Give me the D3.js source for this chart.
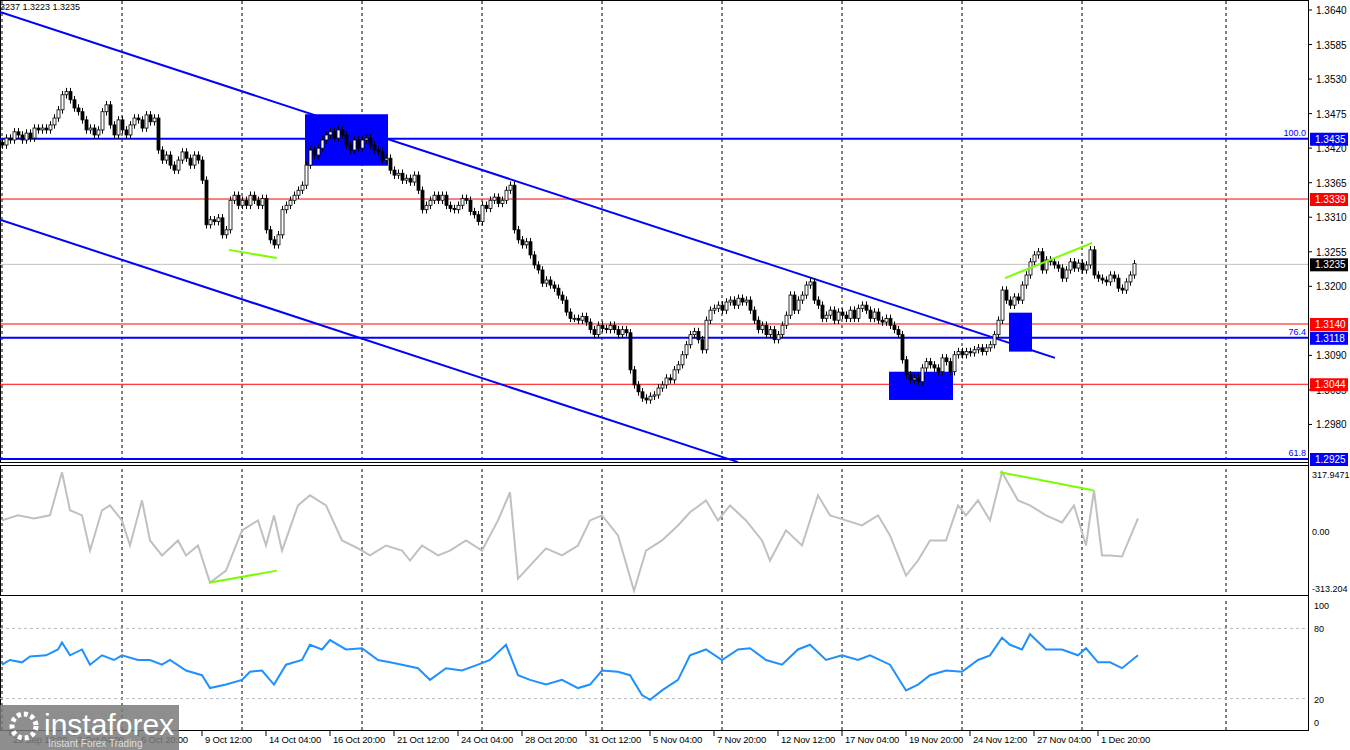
<!DOCTYPE html>
<html><head><meta charset="utf-8">
<script src="https://cdn.jsdelivr.net/npm/d3@7"></script>
<style>body{margin:0;background:#fff}svg{display:block}text{font-family:"Liberation Sans",Arial,sans-serif}</style>
</head><body><svg id="c" width="1350" height="750"></svg>
<script>
// closes in pips (1.xxxx -> xxxx)
const closes = [3425,3436,3433,3446,3441,3433,3444,3436,3452,3449,
3452,3449,3457,3468,3481,3505,3510,3497,3484,3478,
3465,3449,3452,3441,3449,3478,3489,3457,3441,3465,
3449,3441,3457,3468,3465,3452,3473,3462,3468,3417,
3401,3409,3393,3385,3401,3414,3404,3393,3409,3401,
3369,3298,3306,3303,3309,3282,3290,3337,3345,3329,
3337,3329,3345,3337,3329,3340,3290,3274,3266,3282,
3322,3329,3337,3345,3353,3361,3393,3417,3409,3420,
3433,3441,3446,3436,3449,3441,3425,3417,3433,3420,
3433,3436,3425,3417,3414,3401,3404,3385,3377,3380,
3369,3372,3366,3377,3353,3322,3329,3337,3345,3337,
3345,3329,3324,3322,3329,3340,3337,3319,3314,3303,
3329,3324,3337,3342,3332,3337,3353,3361,3290,3274,
3266,3271,3250,3234,3226,3205,3210,3202,3197,3186,
3178,3159,3149,3149,3146,3152,3143,3131,3123,3138,
3133,3131,3138,3131,3123,3131,3126,3067,3043,3032,
3022,3019,3025,3027,3038,3043,3054,3051,3067,3075,
3091,3107,3123,3128,3115,3099,3146,3162,3165,3170,
3162,3175,3178,3170,3181,3175,3178,3162,3146,3131,
3138,3123,3131,3115,3123,3138,3154,3186,3162,3178,
3186,3202,3207,3178,3170,3149,3154,3162,3146,3159,
3154,3149,3162,3149,3165,3170,3162,3149,3159,3146,
3143,3149,3138,3131,3123,3083,3059,3051,3054,3048,
3070,3080,3075,3070,3064,3086,3080,3064,3091,3096,
3091,3096,3094,3099,3102,3096,3102,3107,3123,3146,
3194,3178,3170,3183,3178,3202,3218,3239,3250,3255,
3226,3242,3239,3234,3229,3213,3226,3239,3229,3237,
3226,3234,3258,3218,3213,3210,3207,3218,3213,3197,
3194,3207,3218,3236];
const cciBars = [0,4,8,12,15,17,20,22,25,27,30,32,35,37,40,44,46,49,52,56,60,64,66,68,70,74,77,81,85,89,92,96,100,102,105,109,112,116,120,124,127,129,132,136,140,144,147,150,154,158,161,165,169,172,176,179,182,186,190,192,196,200,204,207,211,215,219,222,226,229,232,236,239,241,244,247,250,254,257,261,265,268,271,273,275,277,280,284];
const cciVals = [61,89,72,89,328,117,89,-106,117,144,61,-78,172,-50,-133,-50,-133,-78,-283,-217,6,61,-78,89,-106,144,200,144,-50,-94,-133,-78,-106,-161,-78,-133,-106,-50,-106,61,217,-261,-189,-94,-133,-78,61,89,-22,-328,-106,-50,33,106,172,61,144,61,-50,-161,6,-78,200,89,61,33,89,-22,-244,-161,-50,-50,144,89,172,61,328,172,144,89,50,144,-78,228,-133,-133,-139,72];
const rsiBars = [0,2,5,7,11,14,15,17,20,22,25,28,30,34,37,40,42,46,50,52,56,60,62,65,68,71,75,77,80,82,86,90,94,97,100,104,107,111,115,119,122,126,129,132,136,140,144,147,150,154,157,160,162,165,169,172,176,180,184,187,191,195,199,202,206,210,214,217,222,226,229,232,236,240,244,247,250,252,255,257,261,265,269,271,274,277,280,284];
const rsiVals = [49,53,51,56,57,62,68,57,62,49,57,53,57,53,53,49,53,44,40,29,32,36,43,44,32,49,53,66,62,70,62,63,53,51,49,46,36,46,44,49,53,66,40,36,32,36,29,32,44,43,40,23,19,27,36,57,62,53,62,63,53,49,62,66,53,57,53,57,49,27,32,40,44,43,53,57,72,66,62,75,62,62,57,63,51,51,46,57];
const priceTicks = [3640,3585,3530,3475,3420,3365,3310,3255,3200,3090,3035,2980];
const levels = [{p:3435,c:"#0000ff",w:2,lab:"1.3435",fib:"100.0"},{p:3339,c:"#ff0000",w:1,lab:"1.3339"},{p:3235,c:"#c0c0c0",w:1,lab:"1.3235",bg:"#000"},
 {p:3140,c:"#ff0000",w:1,lab:"1.3140"},{p:3118,c:"#0000ff",w:2,lab:"1.3118",fib:"76.4"},{p:3044,c:"#ff0000",w:1,lab:"1.3044"},{p:2925,c:"#0000ff",w:2,lab:"1.2925",fib:"61.8"}];
const dateBars = [2,18,34,50,66,82,98,114,130,146,162,178,194,210,226,242,258,274];
const dateLabels = ["29 Sep 12:00","2 Oct 04:00","6 Oct 20:00","9 Oct 12:00","14 Oct 04:00","16 Oct 20:00","21 Oct 12:00","24 Oct 04:00","28 Oct 20:00","31 Oct 12:00","5 Nov 04:00","7 Nov 20:00","12 Nov 12:00","17 Nov 04:00","19 Nov 20:00","24 Nov 12:00","27 Nov 04:00","1 Dec 20:00"];
const gridBars = [0,30,60,90,120,150,180,210,240,270,306];
const channelUpper = [[-0.5,3637],[263.25,3086]];
const channelLower = [[-0.5,3306],[184,2920]];
const boxes = [[75.75,96.5,3474,3392],[221.75,237.75,3064,3019],[251.75,257.5,3158,3096]];
const greenMain = [[[56.75,3258],[68.75,3245]],[[250.75,3213],[272.5,3269]]];
const greenCci = [[[52,-283],[68.75,-217]],[[249.5,328],[272.75,228]]];

const svg = d3.select("#c");
const x = d3.scaleLinear().domain([0,283]).range([2,1134]);
const y = d3.scaleLinear().domain([3640,2925]).range([10,459]);
const yc = d3.scaleLinear().domain([-313.204,317.9471]).range([588,474]);
const yr = d3.scaleLinear().domain([0,100]).range([722,605]);
const R = 1308;
svg.append("rect").attr("x",0.5).attr("y",0.5).attr("width",R).attr("height",462).attr("fill","none").attr("stroke","#000");
svg.append("rect").attr("x",0.5).attr("y",465.5).attr("width",R).attr("height",130).attr("fill","none").attr("stroke","#000");
svg.append("rect").attr("x",0.5).attr("y",597.5).attr("width",R).attr("height",133).attr("fill","none").attr("stroke","#000");
gridBars.forEach(b=>{svg.append("line").attr("x1",x(b)).attr("x2",x(b)).attr("y1",1).attr("y2",730).attr("stroke","#000").attr("stroke-dasharray","3,3");});
svg.selectAll(".gap").data([463,596]).enter().append("rect").attr("x",0).attr("y",d=>d).attr("width",R).attr("height",2).attr("fill","#fff");
levels.forEach(l=>{svg.append("line").attr("x1",0).attr("x2",R).attr("y1",y(l.p)).attr("y2",y(l.p)).attr("stroke",l.c).attr("stroke-width",l.w);
 if(l.fib) svg.append("text").attr("x",R-2).attr("y",y(l.p)-3).attr("text-anchor","end").attr("font-size",9).attr("fill","#0000ff").text(l.fib);});
boxes.forEach(b=>svg.append("rect").attr("x",x(b[0])).attr("y",y(b[2])).attr("width",x(b[1])-x(b[0])).attr("height",y(b[3])-y(b[2])).attr("fill","#0000ff"));
[channelUpper,channelLower].forEach(c=>svg.append("line").attr("x1",x(c[0][0])).attr("y1",y(c[0][1])).attr("x2",x(c[1][0])).attr("y2",y(c[1][1])).attr("stroke","#0000ff").attr("stroke-width",2));
const g = svg.append("g");
closes.forEach((c,i)=>{const o = i? closes[i-1]: c+4; const hi=Math.max(o,c)+6, lo=Math.min(o,c)-6;
 const cx = Math.round(x(i))+0.5;
 g.append("line").attr("x1",cx).attr("x2",cx).attr("y1",y(hi)).attr("y2",y(lo)).attr("stroke","#000");
 const top=y(Math.max(o,c)), h=Math.max(1,y(Math.min(o,c))-top);
 g.append("rect").attr("x",cx-1.5).attr("y",top).attr("width",3).attr("height",h).attr("fill",c>=o?"#fff":"#000").attr("stroke","#000").attr("stroke-width",0.8);});
greenMain.forEach(s=>svg.append("line").attr("x1",x(s[0][0])).attr("y1",y(s[0][1])).attr("x2",x(s[1][0])).attr("y2",y(s[1][1])).attr("stroke","#7cfc00").attr("stroke-width",2));
svg.append("path").datum(cciBars.map((b,i)=>[b,cciVals[i]])).attr("d",d3.line().x(d=>x(d[0])).y(d=>yc(d[1]))).attr("fill","none").attr("stroke","#c0c0c0").attr("stroke-width",2);
greenCci.forEach(s=>svg.append("line").attr("x1",x(s[0][0])).attr("y1",yc(s[0][1])).attr("x2",x(s[1][0])).attr("y2",yc(s[1][1])).attr("stroke","#7cfc00").attr("stroke-width",2));
[80,20].forEach(v=>svg.append("line").attr("x1",0).attr("x2",R).attr("y1",yr(v)).attr("y2",yr(v)).attr("stroke","#bbb").attr("stroke-dasharray","3,3"));
svg.append("path").datum(rsiBars.map((b,i)=>[b,rsiVals[i]])).attr("d",d3.line().x(d=>x(d[0])).y(d=>yr(d[1]))).attr("fill","none").attr("stroke","#1e90ff").attr("stroke-width",2);
svg.append("rect").attr("x",R+1).attr("y",0).attr("width",42).attr("height",750).attr("fill","#fff");
svg.append("line").attr("x1",R+0.5).attr("x2",R+0.5).attr("y1",0).attr("y2",731).attr("stroke","#000");
const ax = svg.append("g").attr("font-size",10).attr("fill","#000");
priceTicks.forEach(p=>{ax.append("line").attr("x1",R).attr("x2",R+4).attr("y1",y(p)).attr("y2",y(p)).attr("stroke","#000");
 ax.append("text").attr("x",R+8).attr("y",y(p)+4).text((1+p/10000).toFixed(4));});
levels.forEach(l=>{const bg = l.bg || l.c; ax.append("rect").attr("x",R+2).attr("y",y(l.p)-6).attr("width",38).attr("height",13).attr("fill",bg);
 ax.append("text").attr("x",R+7).attr("y",y(l.p)+4).attr("fill","#fff").text(l.lab);});
[[317.9471,"317.9471"],[0,"0.00"],[-313.204,"-313.204"]].forEach(t=>ax.append("text").attr("x",R+4).attr("y",yc(t[0])+4).attr("font-size",9).text(t[1]));
[100,80,20,0].forEach(v=>ax.append("text").attr("x",R+6).attr("y",yr(v)+4).attr("font-size",9).text(v));
svg.append("line").attr("x1",0).attr("x2",R).attr("y1",730.5).attr("y2",730.5).attr("stroke","#000");
dateBars.forEach((b,i)=>{svg.append("line").attr("x1",x(b)).attr("x2",x(b)).attr("y1",731).attr("y2",736).attr("stroke","#000");
 svg.append("text").attr("x",x(b)+3).attr("y",743).attr("font-size",9.5).attr("letter-spacing",-0.2).text(dateLabels[i]);});
svg.append("text").attr("x",0).attr("y",10).attr("font-size",9).text("3237 1.3223 1.3235");
const lg = svg.append("g");
lg.append("rect").attr("x",0).attr("y",705).attr("width",179).attr("height",45).attr("fill","#7a7a7a").attr("opacity",0.85);
lg.append("circle").attr("cx",24).attr("cy",726).attr("r",12).attr("fill","none").attr("stroke","#fff").attr("stroke-width",5).attr("stroke-dasharray","4,3");
lg.append("text").attr("x",44).attr("y",735).attr("font-size",30).attr("fill","#fff").attr("font-family","Open Sans").text("instaforex");
lg.append("text").attr("x",48).attr("y",747).attr("font-size",10).attr("fill","#ddd").text("Instant Forex Trading");
</script></body></html>
